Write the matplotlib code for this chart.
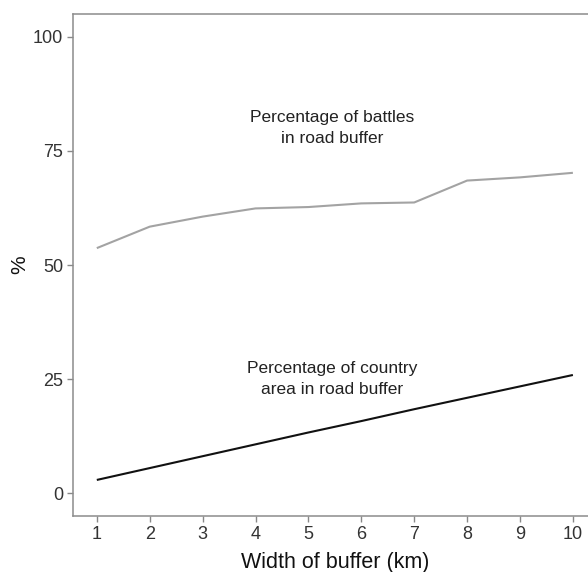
import matplotlib
matplotlib.use("Agg")
import matplotlib.pyplot as plt

plt.rcParams['font.family'] = ['Liberation Sans', 'DejaVu Sans']

# Buffer widths (km)
buffer_km = [1, 2, 3, 4, 5, 6, 7, 8, 9, 10]
# Share of battles falling inside the road buffer (%)
battles_pct = [53.7, 58.4, 60.6, 62.4, 62.7, 63.5, 63.7, 68.5, 69.2, 70.2]
# Share of country area covered by the road buffer (%)
area_pct = [2.9, 5.5, 8.1, 10.7, 13.3, 15.8, 18.4, 20.9, 23.4, 25.9]

x_ticks = [1, 2, 3, 4, 5, 6, 7, 8, 9, 10]
y_ticks = [0, 25, 50, 75, 100]

W, H = 588, 572
fig = plt.figure(figsize=(W / 100, H / 100), dpi=100)
left, right, top, bottom = 73, 596.7, 14, 516
ax = fig.add_axes([left / W, 1 - bottom / H, (right - left) / W, (bottom - top) / H])

ax.plot(buffer_km, battles_pct, color='#a3a3a3', lw=1.5, solid_capstyle='butt')
ax.plot(buffer_km, area_pct, color='#111111', lw=1.5, solid_capstyle='butt')

ax.text(5.45, 80, "Percentage of battles\nin road buffer", ha='center', va='center',
        multialignment='center', fontsize=12.5, color='#222222', linespacing=1.46)
ax.text(5.45, 25, "Percentage of country\narea in road buffer", ha='center', va='center',
        multialignment='center', fontsize=12.5, color='#222222', linespacing=1.46)

ax.set_xlim(0.55, 10.45)
ax.set_ylim(-5, 105)
ax.set_xticks(x_ticks)
ax.set_yticks(y_ticks)
ax.tick_params(axis='both', length=4, width=1, color='#888888', labelsize=13,
               labelcolor='#333333', pad=3)

for s in ax.spines.values():
    s.set_color('#8c8c8c')
    s.set_linewidth(1.1)

ax.set_xlabel("Width of buffer (km)", fontsize=15.5, color='#111111', labelpad=7)
ax.set_ylabel("%", fontsize=15, color='#111111', labelpad=2.5)

fig.savefig("out.png", dpi=100)
